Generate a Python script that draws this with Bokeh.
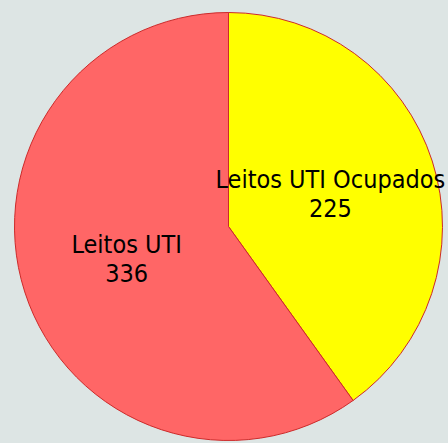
import numpy as np
from bokeh.plotting import figure
from bokeh.models import Range1d, ColumnDataSource
from bokeh.core.properties import value
from bokeh.embed import file_html
from bokeh.resources import INLINE

labels = ["Leitos UTI Ocupados", "Leitos UTI"]
values = [225, 336]
colors = ["#ffff00", "#ff6666"]

BG = "#dde5e4"
W, H = 448, 443
cx, cy, R = 228, H - 226, 214

vals = np.array(values, dtype=float)
frac = vals / vals.sum()
ang = frac * 2 * np.pi
ends = np.pi / 2 - np.concatenate([[0], np.cumsum(ang)[:-1]])
starts = ends - ang
mids = (starts + ends) / 2

src = ColumnDataSource(dict(
    start=starts, end=ends, color=colors,
    tx=cx + 0.5 * R * np.cos(mids), ty=cy + 0.5 * R * np.sin(mids),
    txt=[f"{l}\n{v}" for l, v in zip(labels, values)],
))

p = figure(width=W, height=H, output_backend="svg", toolbar_location=None,
           x_range=Range1d(0, W), y_range=Range1d(0, H),
           min_border=0)
p.axis.visible = False
p.grid.visible = False
p.outline_line_color = None
p.background_fill_color = BG
p.border_fill_color = BG

p.wedge(x=cx, y=cy, radius=R, start_angle="start", end_angle="end",
        fill_color="color", line_color="#cc2a2a", line_width=1, source=src)
p.text(x="tx", y="ty", text="txt", source=src, text_align="center",
       text_baseline="middle",
       text_font=value("'Liberation Sans Narrow', 'DejaVu Sans Condensed', sans-serif"),
       text_font_size="25px", text_color="#000000", text_line_height=1.0)

html = file_html(p, INLINE)
html = html.replace("<head>", "<head><style>body{background:%s;}</style>" % BG, 1)
open("out.html", "w").write(html)
